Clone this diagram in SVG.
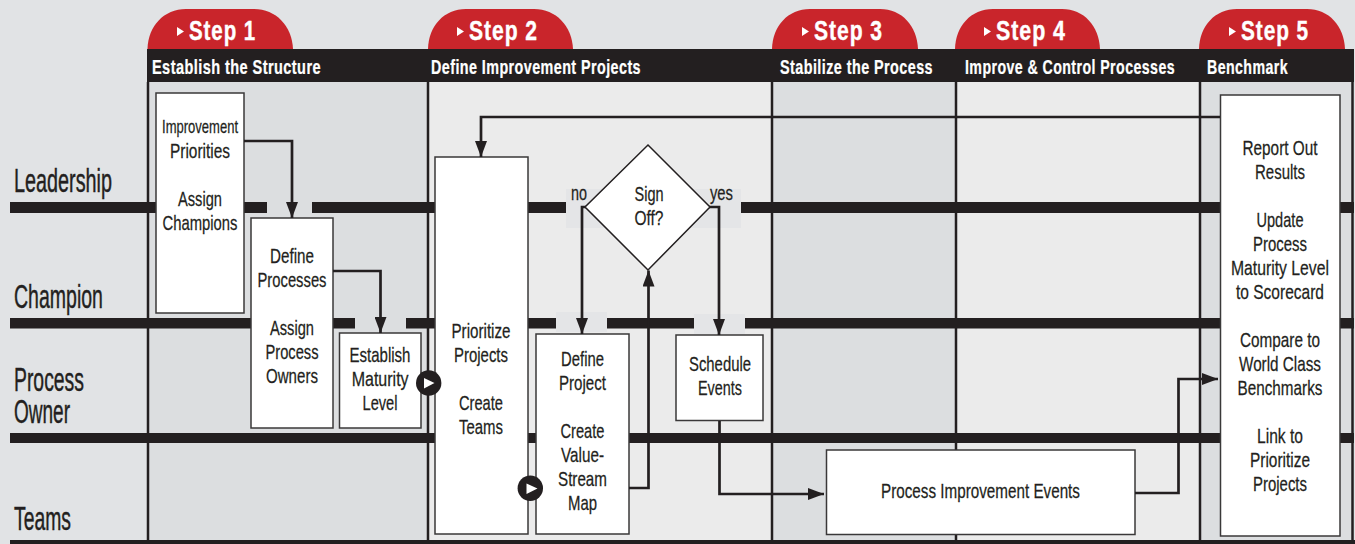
<svg xmlns="http://www.w3.org/2000/svg" width="1355" height="544" viewBox="0 0 1355 544">
<style>
text{font-family:"Liberation Sans",Arial,sans-serif;fill:#231f20;transform-box:fill-box}
.b{font-size:20.500px;text-anchor:middle;stroke:#231f20;stroke-width:.25;transform-origin:50% 50%;transform:scaleX(.75)}
.l{font-size:34px;stroke:#231f20;stroke-width:.45;transform-origin:0 50%;transform:scaleX(.58)}
.h{font-size:20px;font-weight:bold;fill:#fff;letter-spacing:.6px;stroke:#fff;stroke-width:.25;transform-origin:0 50%;transform:scaleX(.74)}
.s{font-size:27px;font-weight:bold;fill:#fff;letter-spacing:1.200px;stroke:#fff;stroke-width:.4;transform-origin:0 50%;transform:scaleX(.76)}
.box{fill:#fff;stroke:#3a3839;stroke-width:1.5}
.bar{fill:#231f20}
.v{stroke:#231f20;stroke-width:2.5;fill:none}
.c{stroke:#231f20;stroke-width:2.7;fill:none}
.tab{fill:#c9252b}
</style>
<defs>
<marker id="a" markerUnits="userSpaceOnUse" markerWidth="16" markerHeight="12" refX="16" refY="6" orient="auto"><path d="M0 0L16 6L0 12z" fill="#231f20"/></marker>
</defs>
<rect width="1355" height="544" fill="#e1e3e5"/>
<g id="columns">
<rect x="148" y="82" width="280" height="460" fill="#dcdee0"/>
<rect x="428" y="82" width="344" height="460" fill="#ebebeb"/>
<rect x="772" y="82" width="184" height="460" fill="#dcdee0"/>
<rect x="956" y="82" width="244" height="460" fill="#ebebeb"/>
<rect x="1200" y="82" width="151" height="460" fill="#dcdee0"/>
<path class="v" d="M148 82V542M428 82V542M772 82V542M956 82V542M1200 82V542M1352.500 82V542"/>
</g>
<g id="lanes">
<rect class="bar" x="10" y="202" width="1344" height="11"/>
<rect class="bar" x="10" y="318" width="1344" height="10.500"/>
<rect class="bar" x="10" y="433" width="1344" height="10"/>
<rect class="bar" x="10" y="540" width="1345" height="4"/>
<rect x="267" y="200" width="45" height="16" fill="#dcdee0"/>
<rect x="355" y="316" width="51" height="16" fill="#dcdee0"/>
<rect x="566" y="189" width="175" height="39" fill="#e4e5e7"/>
<rect x="556" y="312" width="51" height="20" fill="#e4e5e7"/>
<rect x="694" y="314" width="51" height="20" fill="#e4e5e7"/>
</g>
<g id="steps">
<path class="tab" d="M147.500 49C148 26 164 9 186 9H254C276 9 292 26 293 49Z"/>
<path class="tab" d="M428 49C428.500 26 444 9 466 9H534C556 9 572 26 573 49Z"/>
<path class="tab" d="M772 49C772.500 26 788 9 810 9H880C902 9 917 26 918 49Z"/>
<path class="tab" d="M955 49C955.500 26 971 9 993 9H1062C1084 9 1099 26 1100 49Z"/>
<path class="tab" d="M1199 49C1199.500 26 1215 9 1237 9H1307C1329 9 1344 26 1345 49Z"/>
<rect x="147" y="49" width="1207" height="33" fill="#231f20"/>
<path d="M177 27L184 31.500L177 36z M457 27L464 31.500L457 36z M802 27L809 31.500L802 36z M984 27L991 31.500L984 36z M1229 27L1236 31.500L1229 36z" fill="#fff"/>
<text class="s" x="189" y="40" textLength="88.200" lengthAdjust="spacingAndGlyphs">Step 1</text>
<text class="s" x="469" y="40" textLength="90.800" lengthAdjust="spacingAndGlyphs">Step 2</text>
<text class="s" x="814" y="40" textLength="90.800" lengthAdjust="spacingAndGlyphs">Step 3</text>
<text class="s" x="996" y="40" textLength="92.100" lengthAdjust="spacingAndGlyphs">Step 4</text>
<text class="s" x="1241" y="40" textLength="89.500" lengthAdjust="spacingAndGlyphs">Step 5</text>
<text class="h" x="152" y="74" textLength="228.400" lengthAdjust="spacingAndGlyphs">Establish the Structure</text>
<text class="h" x="431" y="74" textLength="283.800" lengthAdjust="spacingAndGlyphs">Define Improvement Projects</text>
<text class="h" x="780" y="74" textLength="206.800" lengthAdjust="spacingAndGlyphs">Stabilize the Process</text>
<text class="h" x="965" y="74" textLength="283.800" lengthAdjust="spacingAndGlyphs">Improve &amp; Control Processes</text>
<text class="h" x="1207" y="74" textLength="109.500" lengthAdjust="spacingAndGlyphs">Benchmark</text>
</g>
<g id="lane-labels">
<text class="l" x="14" y="192.500" textLength="169" lengthAdjust="spacingAndGlyphs">Leadership</text>
<text class="l" x="14" y="308.500" textLength="153.400" lengthAdjust="spacingAndGlyphs">Champion</text>
<text class="l" x="14" y="391.500" textLength="120.700" lengthAdjust="spacingAndGlyphs">Process</text>
<text class="l" x="14" y="423.500" textLength="96.600" lengthAdjust="spacingAndGlyphs">Owner</text>
<text class="l" x="14" y="530" textLength="98.300" lengthAdjust="spacingAndGlyphs">Teams</text>
</g>
<g id="node-priorities">
<rect class="box" x="156" y="93" width="88" height="220"/>
<text class="b" style="font-size:19px" x="200" y="133" textLength="101.300" lengthAdjust="spacingAndGlyphs">Improvement</text>
<text class="b" x="200" y="158" textLength="80" lengthAdjust="spacingAndGlyphs">Priorities</text>
<text class="b" x="200" y="206" textLength="58.700" lengthAdjust="spacingAndGlyphs">Assign</text>
<text class="b" x="200" y="230" textLength="100" lengthAdjust="spacingAndGlyphs">Champions</text>
</g>
<g id="node-processes">
<rect class="box" x="251" y="218" width="82" height="210"/>
<text class="b" x="292" y="263" textLength="58.700" lengthAdjust="spacingAndGlyphs">Define</text>
<text class="b" x="292" y="287" textLength="92" lengthAdjust="spacingAndGlyphs">Processes</text>
<text class="b" x="292" y="335" textLength="58.700" lengthAdjust="spacingAndGlyphs">Assign</text>
<text class="b" x="292" y="359" textLength="70.700" lengthAdjust="spacingAndGlyphs">Process</text>
<text class="b" x="292" y="383" textLength="69.300" lengthAdjust="spacingAndGlyphs">Owners</text>
</g>
<g id="node-maturity">
<rect class="box" x="339.500" y="333" width="81.500" height="95"/>
<text class="b" x="380" y="362" textLength="81.300" lengthAdjust="spacingAndGlyphs">Establish</text>
<text class="b" x="380" y="386" textLength="76" lengthAdjust="spacingAndGlyphs">Maturity</text>
<text class="b" x="380" y="410" textLength="46.700" lengthAdjust="spacingAndGlyphs">Level</text>
</g>
<g id="node-prioritize">
<rect class="box" x="435" y="157" width="93" height="377"/>
<text class="b" x="481" y="338" textLength="78.700" lengthAdjust="spacingAndGlyphs">Prioritize</text>
<text class="b" x="481" y="362" textLength="72" lengthAdjust="spacingAndGlyphs">Projects</text>
<text class="b" x="481" y="410" textLength="58.700" lengthAdjust="spacingAndGlyphs">Create</text>
<text class="b" x="481" y="434" textLength="58.700" lengthAdjust="spacingAndGlyphs">Teams</text>
</g>
<g id="node-define">
<rect class="box" x="536" y="334" width="93" height="200"/>
<text class="b" x="582.500" y="366" textLength="57.300" lengthAdjust="spacingAndGlyphs">Define</text>
<text class="b" x="582.500" y="390" textLength="62.700" lengthAdjust="spacingAndGlyphs">Project</text>
<text class="b" x="582.500" y="438" textLength="58.700" lengthAdjust="spacingAndGlyphs">Create</text>
<text class="b" x="582.500" y="462" textLength="57.300" lengthAdjust="spacingAndGlyphs">Value-</text>
<text class="b" x="582.500" y="486" textLength="65.300" lengthAdjust="spacingAndGlyphs">Stream</text>
<text class="b" x="582.500" y="510" textLength="38.700" lengthAdjust="spacingAndGlyphs">Map</text>
</g>
<g id="node-signoff">
<path d="M648 145L710 207L648 270L585 207Z" fill="#fff" stroke="#231f20" stroke-width="1.500"/>
<text class="b" x="649" y="201" textLength="38.700" lengthAdjust="spacingAndGlyphs">Sign</text>
<text class="b" x="649" y="225" textLength="38.700" lengthAdjust="spacingAndGlyphs">Off?</text>
</g>
<g id="node-schedule">
<rect class="box" x="676" y="335" width="87" height="85.500"/>
<text class="b" x="720" y="371" textLength="82.700" lengthAdjust="spacingAndGlyphs">Schedule</text>
<text class="b" x="720" y="395" textLength="58.700" lengthAdjust="spacingAndGlyphs">Events</text>
</g>
<g id="node-events">
<rect class="box" x="826.500" y="450" width="308.500" height="84.500"/>
<text class="b" x="980.500" y="498" textLength="265.300" lengthAdjust="spacingAndGlyphs">Process Improvement Events</text>
</g>
<g id="node-benchmark">
<rect class="box" x="1220.500" y="95" width="119.500" height="441"/>
<text class="b" x="1280" y="155.500" textLength="100" lengthAdjust="spacingAndGlyphs">Report Out</text>
<text class="b" x="1280" y="179.500" textLength="66.700" lengthAdjust="spacingAndGlyphs">Results</text>
<text class="b" x="1280" y="227.500" textLength="62.700" lengthAdjust="spacingAndGlyphs">Update</text>
<text class="b" x="1280" y="251.500" textLength="72" lengthAdjust="spacingAndGlyphs">Process</text>
<text class="b" x="1280" y="275.500" textLength="130.700" lengthAdjust="spacingAndGlyphs">Maturity Level</text>
<text class="b" x="1280" y="299.500" textLength="117.300" lengthAdjust="spacingAndGlyphs">to Scorecard</text>
<text class="b" x="1280" y="347.500" textLength="106.700" lengthAdjust="spacingAndGlyphs">Compare to</text>
<text class="b" x="1280" y="371.500" textLength="109.300" lengthAdjust="spacingAndGlyphs">World Class</text>
<text class="b" x="1280" y="395.500" textLength="113.300" lengthAdjust="spacingAndGlyphs">Benchmarks</text>
<text class="b" x="1280" y="443.500" textLength="61.300" lengthAdjust="spacingAndGlyphs">Link to</text>
<text class="b" x="1280" y="467.500" textLength="80" lengthAdjust="spacingAndGlyphs">Prioritize</text>
<text class="b" x="1280" y="491.500" textLength="72" lengthAdjust="spacingAndGlyphs">Projects</text>
</g>
<g id="connectors">
<path class="c" marker-end="url(#a)" d="M244 141H292V218"/>
<path class="c" marker-end="url(#a)" d="M333 271H380.500V333"/>
<path class="c" marker-end="url(#a)" d="M1220 117H481V157"/>
<path class="c" marker-end="url(#a)" d="M586 207H582V334"/>
<path class="c" marker-end="url(#a)" d="M709 207H719V335"/>
<path class="c" marker-end="url(#a)" d="M629 488H648.500V270.500"/>
<path class="c" marker-end="url(#a)" d="M719.500 421V494H824"/>
<path class="c" marker-end="url(#a)" d="M1135 493H1178.500V379H1218"/>
</g>
<g id="play-buttons">
<circle cx="428.700" cy="383" r="12.700" fill="#231f20"/>
<path d="M424 378L434.500 383L424 388.500z" fill="#fff"/>
<circle cx="530.300" cy="488.300" r="12.700" fill="#231f20"/>
<path d="M526.500 483.500L537.500 488.500L526.500 494z" fill="#fff"/>
</g>
<g id="branch-labels">
<text class="b" x="579" y="200" textLength="21.300" lengthAdjust="spacingAndGlyphs">no</text>
<text class="b" x="721.500" y="200" textLength="30.700" lengthAdjust="spacingAndGlyphs">yes</text>
</g>
</svg>
